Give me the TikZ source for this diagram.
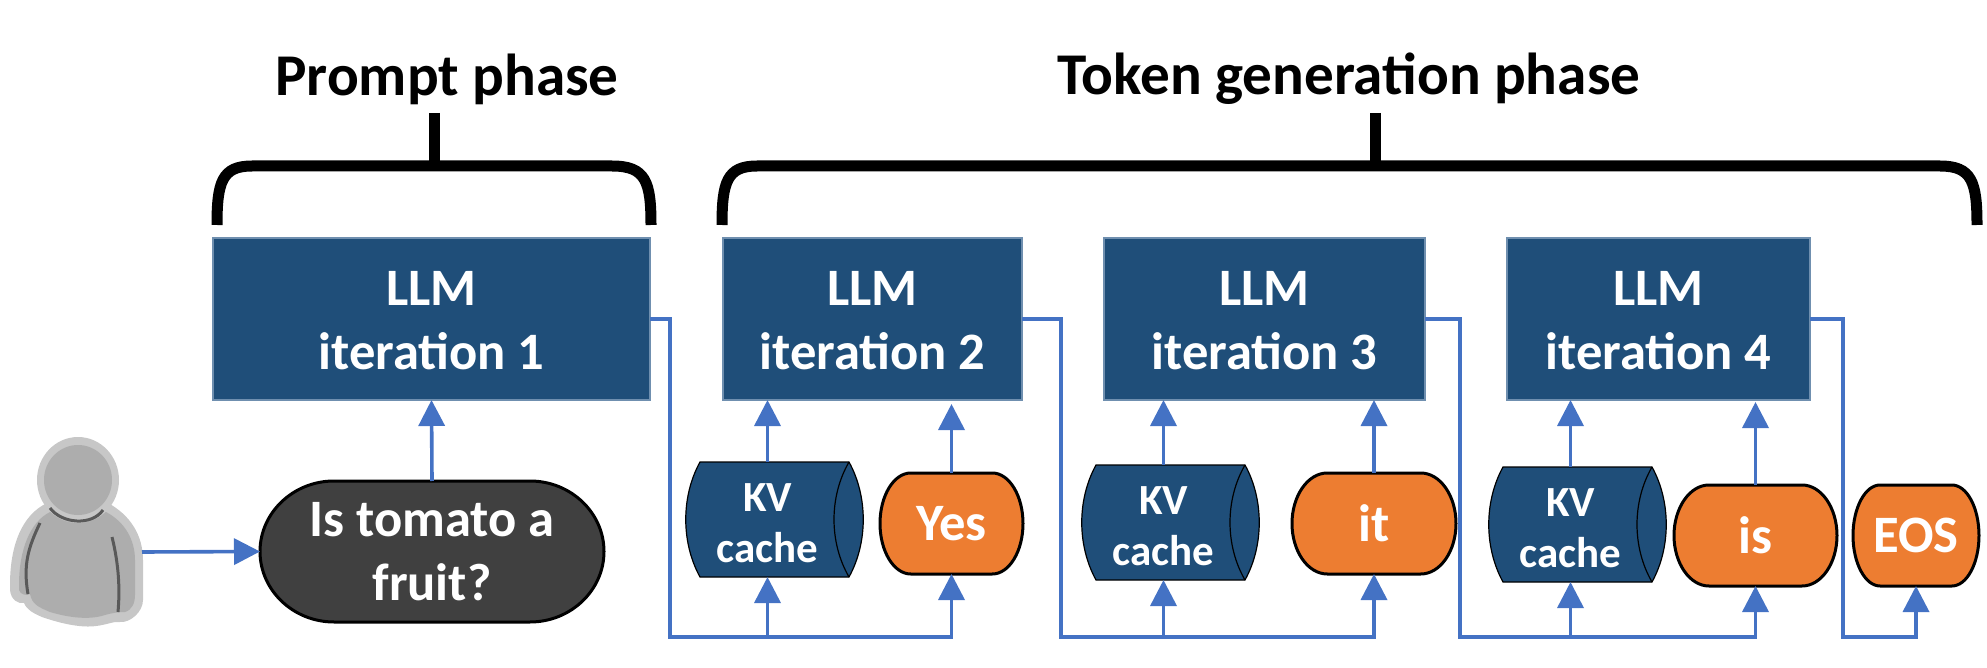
\documentclass[tikz,border=0pt]{standalone}
\usepackage{fontspec}
\setmainfont{Carlito}
\usetikzlibrary{arrows.meta,calc}
\definecolor{boxblue}{HTML}{1F4E79}
\definecolor{boxedge}{HTML}{6F8FAF}
\definecolor{flowblue}{HTML}{4472C4}
\definecolor{tokorange}{HTML}{ED7D31}
\definecolor{promptgray}{HTML}{404040}
\tikzset{
  flow/.style={draw=flowblue,line width=1.8pt,-{Triangle[length=13pt,width=13pt]}},
  brace/.style={draw=black,line width=5.5pt},
  titletext/.style={font=\fontsize{29.6}{34}\selectfont\bfseries,text=black,inner sep=0pt},
  bigtext/.style={font=\fontsize{26.3}{32}\selectfont\bfseries,text=white,align=center,inner sep=0pt},
  kvtext/.style={font=\fontsize{21.5}{25.5}\selectfont\bfseries,text=white,align=center,inner sep=0pt},
  holder/.style={inner sep=0pt,outer sep=0pt}
}
% llm box: name, left, top, right, bottom, text
\newcommand{\llmbox}[6]{%
  \pgfmathsetmacro{\wv}{(#4-#2)*0.5}\pgfmathsetmacro{\hv}{(#5-#3)*0.5}%
  \node[holder,draw=boxedge,line width=0.6pt,fill=boxblue,minimum width=\wv pt,minimum height=\hv pt]
    (#1) at ({(#2+#4)/2},{(#3+#5)/2}) {};
  \node[bigtext] (#1t) at ($(#1.center)+(0,2)$) {#6};}
% pill: name, left, top, right, bottom, fill, style, text
\newcommand{\pill}[8]{%
  \pgfmathsetmacro{\rxv}{(#4-#2)*0.215}\pgfmathsetmacro{\ryv}{(#5-#3)*0.5}%
  \pgfmathsetmacro{\wv}{(#4-#2)*0.5}\pgfmathsetmacro{\hv}{(#5-#3)*0.5}%
  \draw[fill=#6,draw=black,line width=1.5pt]
    ({#2+\rxv},#3) -- ({#4-\rxv},#3)
    .. controls ({#4-\rxv*0.45},#3) and (#4,{#3+\ryv*0.45}) .. (#4,{#3+\ryv})
    .. controls (#4,{#5-\ryv*0.45}) and ({#4-\rxv*0.45},#5) .. ({#4-\rxv},#5)
    -- ({#2+\rxv},#5)
    .. controls ({#2+\rxv*0.45},#5) and (#2,{#5-\ryv*0.45}) .. (#2,{#3+\ryv})
    .. controls (#2,{#3+\ryv*0.45}) and ({#2+\rxv*0.45},#3) .. ({#2+\rxv},#3) -- cycle;
  \node[holder,#7,minimum width=\wv pt,minimum height=\hv pt] (#1) at ({(#2+#4)/2},{(#3+#5)/2}) {#8};}
% kv cache: name, left extreme, top, bottom
\newcommand{\kvcache}[4]{%
  \pgfmathsetmacro{\hv}{(#4-#3)*0.5}%
  \draw[fill=boxblue,draw=black,line width=0.6pt]
    ({#2+14},#3) -- ({#2+163},#3)
    .. controls ({#2+182},{#3+(#4-#3)*0.3}) and ({#2+182},{#4-(#4-#3)*0.3}) .. ({#2+163},#4)
    -- ({#2+14},#4)
    .. controls ({#2-5},{#4-(#4-#3)*0.3}) and ({#2-5},{#3+(#4-#3)*0.3}) .. ({#2+14},#3) -- cycle;
  \draw[draw=black,line width=0.6pt]
    ({#2+163},#3) .. controls ({#2+143},{#3+(#4-#3)*0.3}) and ({#2+143},{#4-(#4-#3)*0.3}) .. ({#2+163},#4);
  \node[holder,minimum width=81.5pt,minimum height=\hv pt] (#1) at ({#2+81.5},{(#3+#4)/2}) {};
  \node[kvtext] (#1t) at ($(#1.center)+(0,4)$) {KV\\cache};}
\begin{document}
\begin{tikzpicture}[x=0.5pt,y=-0.5pt]
\useasboundingbox (0,0) rectangle (1987,668);

% titles
\node[titletext] (t1) at (447,79) {Prompt phase};
\node[titletext] (t2) at (1349,79) {Token generation phase};

% braces
\draw[brace] (217,225) .. controls (217,182) and (222,166) .. (252,166) -- (612,166)
   .. controls (646,166) and (651,182) .. (651,225);
\draw[brace] (434,113) -- (434,166);
\draw[brace] (722,225) .. controls (722,182) and (727,166) .. (757,166) -- (1940,166)
   .. controls (1972,166) and (1977,182) .. (1977,225);
\draw[brace] (1375,113) -- (1375,166);

% boxes
\llmbox{b1}{213}{238}{650}{400}{LLM\\iteration 1}
\llmbox{b2}{723}{238}{1022}{400}{LLM\\iteration 2}
\llmbox{b3}{1104}{238}{1425}{400}{LLM\\iteration 3}
\llmbox{b4}{1507}{238}{1810}{400}{LLM\\iteration 4}

% person
\draw[draw=none,fill=black!22]
  (47,503) .. controls (22,515) and (10,545) .. (10,585) -- (10,590)
  .. controls (11,600) and (18,604) .. (24,603) .. controls (27,610) and (33,613) .. (42,617)
  .. controls (62,624) and (82,628) .. (96,626) .. controls (106,625) and (114,621) .. (120,622)
  .. controls (130,623) and (143,612) .. (143,600) -- (143,560)
  .. controls (143,535) and (130,515) .. (108,503) -- cycle;
\draw[draw=none,fill=black!32]
  (50,512) .. controls (30,522) and (19,550) .. (19,585) -- (19,590)
  .. controls (20,595) and (28,596) .. (30,594) .. controls (32,604) and (38,607) .. (50,612)
  .. controls (70,618) and (90,620) .. (105,615) .. controls (112,613) and (118,612) .. (125,612)
  .. controls (132,610) and (135,603) .. (135,595) -- (135,560)
  .. controls (135,540) and (125,522) .. (106,512) -- cycle;
\fill[black!22] (78,480) ellipse (41 and 43);
\fill[black!32] (78,480) ellipse (34 and 35);
\draw[draw=black!65,line width=1.5pt] (50,508) .. controls (62,524) and (92,526) .. (103,510);
\draw[draw=black!65,line width=1.5pt] (40,523) .. controls (28,548) and (23,565) .. (28,594);
\draw[draw=black!65,line width=1.5pt] (112,537) .. controls (119,565) and (120,590) .. (118,612);
\coordinate (user) at (142,552);

% prompt pill and tokens
\pill{q}{260}{481}{604}{622}{promptgray}{bigtext}{Is tomato a\\fruit?}
\pill{yes}{880}{473}{1023}{574}{tokorange}{bigtext}{Yes}
\pill{it}{1292}{473}{1456}{574}{tokorange}{bigtext}{it}
\pill{is}{1674}{485}{1837}{586}{tokorange}{bigtext}{is}
\pill{eos}{1853}{485}{1979}{586}{tokorange}{bigtext}{EOS}

% kv caches
\kvcache{kv1}{686}{462}{577}
\kvcache{kv2}{1082}{465}{580}
\kvcache{kv3}{1489}{467}{582}

% rails
\coordinate (r1) at (670,637);
\coordinate (r2) at (1061,637);
\coordinate (r3) at (1460,637);
\coordinate (r4) at (1843,637);

\draw[flow] (user) -- (q.west);
\draw[flow] (q.north) -- (b1.south);

\draw[flow] (b1.east) -- (b1.east -| r1) -- (r1) -- (r1 -| yes.south) -- (yes.south);
\draw[flow] (kv1.south |- r1) -- (kv1.south);
\draw[flow] (kv1.north) -- (b2.south -| kv1.north);
\draw[flow,shorten >=2pt] (yes.north) -- (b2.south -| yes.north);

\draw[flow] (b2.east) -- (b2.east -| r2) -- (r2) -- (r2 -| it.south) -- (it.south);
\draw[flow] (kv2.south |- r2) -- (kv2.south);
\draw[flow] (kv2.north) -- (b3.south -| kv2.north);
\draw[flow] (it.north) -- (b3.south -| it.north);

\draw[flow] (b3.east) -- (b3.east -| r3) -- (r3) -- (r3 -| is.south) -- (is.south);
\draw[flow] (kv3.south |- r3) -- (kv3.south);
\draw[flow] (kv3.north) -- (b4.south -| kv3.north);
\draw[flow,shorten >=1pt] (is.north) -- (b4.south -| is.north);

\draw[flow] (b4.east) -- (b4.east -| r4) -- (r4) -- (r4 -| eos.south) -- (eos.south);
\end{tikzpicture}
\end{document}
